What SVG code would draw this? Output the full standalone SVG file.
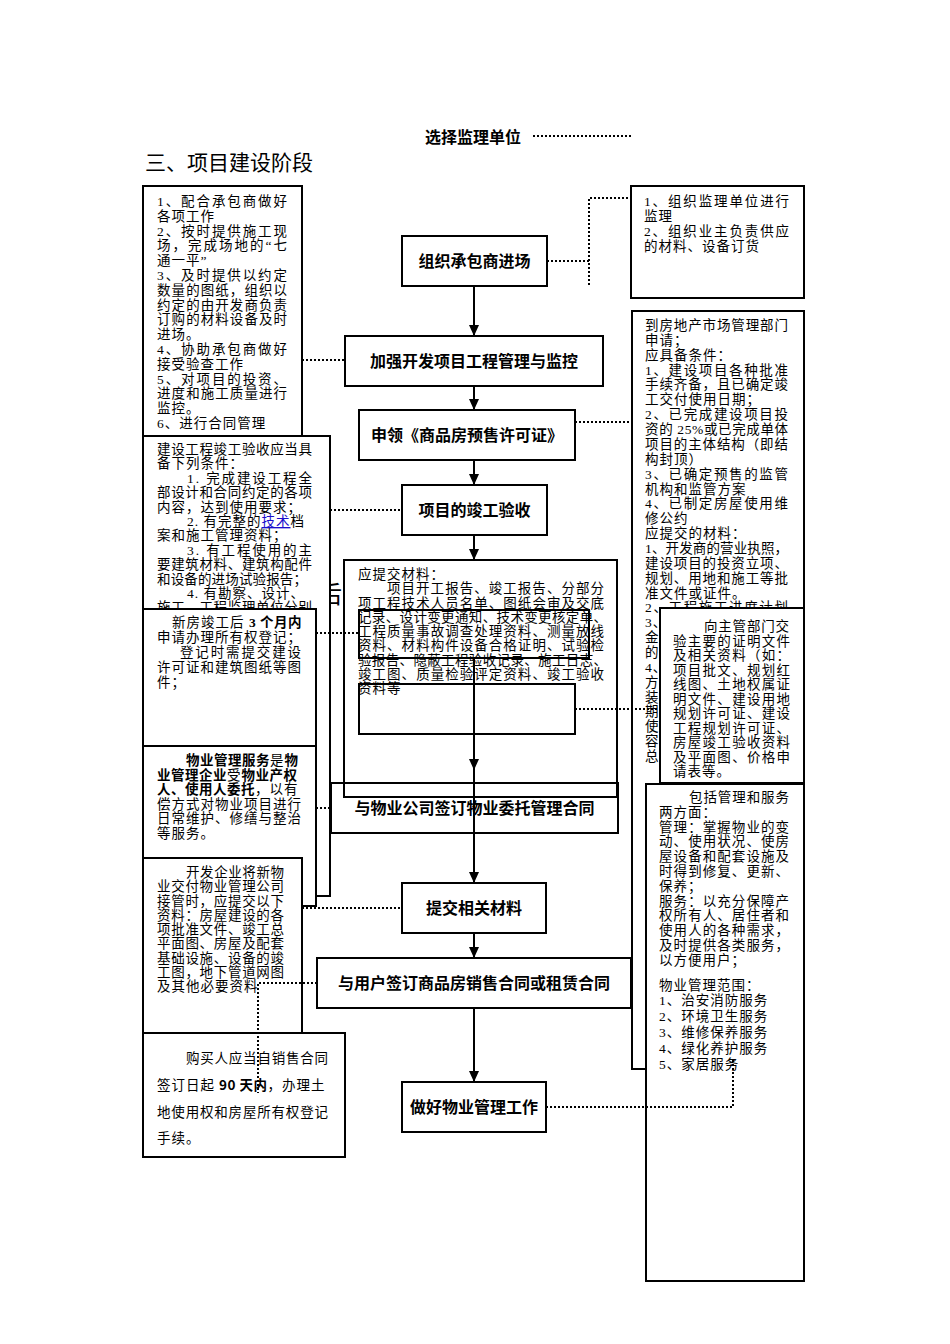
<svg xmlns="http://www.w3.org/2000/svg" width="950" height="1344" viewBox="0 0 950 1344">
<style>
.bg{fill:#fff}
.box{fill:#fff;stroke:#000;stroke-width:2}
.hol{fill:none;stroke:#000;stroke-width:2}
.dot{fill:none;stroke:#000;stroke-width:2;stroke-dasharray:2 2}
.ln{fill:none;stroke:#000;stroke-width:2}
.t{font-family:"Liberation Serif","Noto Sans CJK SC",serif;font-size:13.5px;letter-spacing:1px;fill:#000}
.s{font-family:"Noto Sans CJK SC",sans-serif;font-size:13.5px;letter-spacing:1px;fill:#000}
.b{font-weight:bold;letter-spacing:0.5px}
.n{font-family:"Noto Sans CJK SC",sans-serif;font-size:16px;font-weight:bold;text-anchor:middle;fill:#000}
.lk{fill:#1a0dcc;text-decoration:underline}
</style>
<defs>
<marker id="arr" markerUnits="userSpaceOnUse" markerWidth="12" markerHeight="10" refX="11" refY="5" orient="auto" viewBox="0 0 12 10">
<path d="M0,0 L11,5 L0,10 Z" fill="#000"/>
</marker>
</defs>
<rect class="bg" x="0" y="0" width="950" height="1344"/>

<g id="title">
<text x="425" y="143" class="n" style="text-anchor:start">选择监理单位</text>
<text x="145" y="170" style="font-family:'Noto Sans CJK SC',sans-serif;font-size:21px">三、项目建设阶段</text>
</g>

<g id="hidden-glyph">
<text x="318" y="603" style="font-family:'Noto Sans CJK SC',sans-serif;font-size:24px">后</text>
</g>

<g id="boxA">
<rect class="box" x="143" y="186" width="159" height="260"/>
<text class="t" x="157" y="206" textLength="131" lengthAdjust="spacing">1、配合承包商做好</text>
<text class="t" x="157" y="220.8">各项工作</text>
<text class="t" x="157" y="235.6" textLength="131" lengthAdjust="spacing">2、按时提供施工现</text>
<text class="t" x="157" y="250.4" textLength="131" lengthAdjust="spacing">场，完成场地的“七</text>
<text class="t" x="157" y="265.2">通一平”</text>
<text class="t" x="157" y="280" textLength="131" lengthAdjust="spacing">3、及时提供以约定</text>
<text class="t" x="157" y="294.8" textLength="131" lengthAdjust="spacing">数量的图纸，组织以</text>
<text class="t" x="157" y="309.6" textLength="131" lengthAdjust="spacing">约定的由开发商负责</text>
<text class="t" x="157" y="324.4" textLength="131" lengthAdjust="spacing">订购的材料设备及时</text>
<text class="t" x="157" y="339.2">进场。</text>
<text class="t" x="157" y="354" textLength="131" lengthAdjust="spacing">4、协助承包商做好</text>
<text class="t" x="157" y="368.8">接受验查工作</text>
<text class="t" x="157" y="383.6" textLength="131" lengthAdjust="spacing">5、对项目的投资、</text>
<text class="t" x="157" y="398.4" textLength="131" lengthAdjust="spacing">进度和施工质量进行</text>
<text class="t" x="157" y="413.2">监控。</text>
<text class="t" x="157" y="428">6、进行合同管理</text>
</g>

<g id="boxB">
<rect class="box" x="143" y="436" width="187" height="460"/>
<text class="t" x="157" y="454" textLength="156" lengthAdjust="spacing">建设工程竣工验收应当具</text>
<text class="t" x="157" y="468.4">备下列条件：</text>
<text class="t" x="187" y="482.8" textLength="126" lengthAdjust="spacing">1. 完成建设工程全</text>
<text class="t" x="157" y="497.2" textLength="156" lengthAdjust="spacing">部设计和合同约定的各项</text>
<text class="t" x="157" y="511.6">内容，达到使用要求；</text>
<text class="t" x="187" y="526">2. 有完整的<tspan class="lk">技术</tspan>档</text>
<text class="t" x="157" y="540.4">案和施工管理资料；</text>
<text class="t" x="187" y="554.8" textLength="126" lengthAdjust="spacing">3. 有工程使用的主</text>
<text class="t" x="157" y="569.2" textLength="156" lengthAdjust="spacing">要建筑材料、建筑构配件</text>
<text class="t" x="157" y="583.6" textLength="151" lengthAdjust="spacing">和设备的进场试验报告；</text>
<text class="t" x="187" y="598">4. 有勘察、设计、</text>
<text class="t" x="157" y="612.4" textLength="156" lengthAdjust="spacing">施工、工程监理单位分别</text>
</g>

<g id="boxC">
<rect class="box" x="143" y="609" width="173" height="137"/>
<text class="t" x="172" y="627">新房竣工后 <tspan class="b">3 个月内</tspan></text>
<text class="t" x="157" y="642" textLength="145" lengthAdjust="spacing">申请办理所有权登记；</text>
<text class="t" x="180" y="657" textLength="122" lengthAdjust="spacing">登记时需提交建设</text>
<text class="t" x="157" y="672" textLength="145" lengthAdjust="spacing">许可证和建筑图纸等图</text>
<text class="t" x="157" y="687">件；</text>
</g>

<g id="boxD">
<rect class="box" x="143" y="746" width="173" height="160"/>
<text class="t" x="186" y="765"><tspan class="b">物业管理服务</tspan>是<tspan class="b">物</tspan></text>
<text class="t" x="157" y="779.6"><tspan class="b">业管理企业</tspan>受<tspan class="b">物业产权</tspan></text>
<text class="t" x="157" y="794.2"><tspan class="b">人、使用人委托</tspan>，以有</text>
<text class="t" x="157" y="808.8" textLength="145" lengthAdjust="spacing">偿方式对物业项目进行</text>
<text class="t" x="157" y="823.4" textLength="145" lengthAdjust="spacing">日常维护、修缮与整治</text>
<text class="t" x="157" y="838">等服务。</text>
</g>

<g id="boxE">
<rect class="box" x="143" y="858" width="159" height="175"/>
<text class="t" x="186" y="877" textLength="99" lengthAdjust="spacing">开发企业将新物</text>
<text class="t" x="157" y="891.3" textLength="128" lengthAdjust="spacing">业交付物业管理公司</text>
<text class="t" x="157" y="905.5" textLength="128" lengthAdjust="spacing">接管时，应提交以下</text>
<text class="t" x="157" y="919.8" textLength="128" lengthAdjust="spacing">资料：房屋建设的各</text>
<text class="t" x="157" y="934" textLength="128" lengthAdjust="spacing">项批准文件、竣工总</text>
<text class="t" x="157" y="948.3" textLength="128" lengthAdjust="spacing">平面图、房屋及配套</text>
<text class="t" x="157" y="962.5" textLength="128" lengthAdjust="spacing">基础设施、设备的竣</text>
<text class="t" x="157" y="976.8" textLength="128" lengthAdjust="spacing">工图，地下管道网图</text>
<text class="t" x="157" y="991">及其他必要资料</text>
</g>

<g id="boxF">
<rect class="box" x="143" y="1033" width="202" height="124"/>
<text class="s" x="186" y="1063" textLength="143" lengthAdjust="spacing">购买人应当自销售合同</text>
<text class="s" x="157" y="1090">签订日起 <tspan class="b">90 天内</tspan>，办理土</text>
<text class="s" x="157" y="1117" textLength="172" lengthAdjust="spacing">地使用权和房屋所有权登记</text>
<text class="s" x="157" y="1143">手续。</text>
</g>

<g id="boxG">
<rect class="box" x="631" y="186" width="173" height="112"/>
<text class="t" x="644" y="206" textLength="146" lengthAdjust="spacing">1、组织监理单位进行</text>
<text class="t" x="644" y="221">监理</text>
<text class="t" x="644" y="236" textLength="146" lengthAdjust="spacing">2、组织业主负责供应</text>
<text class="t" x="644" y="251">的材料、设备订货</text>
</g>

<g id="boxH">
<rect class="box" x="632" y="311" width="172" height="758"/>
<text class="t" x="645" y="330" textLength="144" lengthAdjust="spacing">到房地产市场管理部门</text>
<text class="t" x="645" y="344.9">申请；</text>
<text class="t" x="645" y="359.7">应具备条件：</text>
<text class="t" x="645" y="374.6" textLength="144" lengthAdjust="spacing">1、建设项目各种批准</text>
<text class="t" x="645" y="389.4" textLength="144" lengthAdjust="spacing">手续齐备，且已确定竣</text>
<text class="t" x="645" y="404.3">工交付使用日期；</text>
<text class="t" x="645" y="419.2" textLength="144" lengthAdjust="spacing">2、已完成建设项目投</text>
<text class="t" x="645" y="434" textLength="144" lengthAdjust="spacing">资的 25%或已完成单体</text>
<text class="t" x="645" y="448.9" textLength="144" lengthAdjust="spacing">项目的主体结构（即结</text>
<text class="t" x="645" y="463.7">构封顶）</text>
<text class="t" x="645" y="478.6" textLength="144" lengthAdjust="spacing">3、已确定预售的监管</text>
<text class="t" x="645" y="493.5">机构和监管方案</text>
<text class="t" x="645" y="508.3" textLength="144" lengthAdjust="spacing">4、已制定房屋使用维</text>
<text class="t" x="645" y="523.2">修公约</text>
<text class="t" x="645" y="538">应提交的材料：</text>
<text class="t" x="645" y="552.9" textLength="144" lengthAdjust="spacing">1、开发商的营业执照，</text>
<text class="t" x="645" y="567.8" textLength="144" lengthAdjust="spacing">建设项目的投资立项、</text>
<text class="t" x="645" y="582.6" textLength="144" lengthAdjust="spacing">规划、用地和施工等批</text>
<text class="t" x="645" y="597.5">准文件或证件。</text>
<text class="t" x="645" y="612.3" textLength="144" lengthAdjust="spacing">2、工程施工进度计划</text>
<text class="t" x="645" y="627.2">3、</text>
<text class="t" x="645" y="642">金</text>
<text class="t" x="645" y="656.9">的</text>
<text class="t" x="645" y="671.8">4、</text>
<text class="t" x="645" y="686.6">方</text>
<text class="t" x="645" y="701.5">装</text>
<text class="t" x="645" y="716.3">期</text>
<text class="t" x="645" y="731.2">使</text>
<text class="t" x="645" y="746">容</text>
<text class="t" x="645" y="761">总</text>
</g>

<g id="boxI">
<rect class="box" x="660" y="608" width="144" height="175"/>
<text class="t" x="704" y="631" textLength="86" lengthAdjust="spacing">向主管部门交</text>
<text class="t" x="673" y="645.5" textLength="118" lengthAdjust="spacing">验主要的证明文件</text>
<text class="t" x="673" y="660" textLength="118" lengthAdjust="spacing">及相关资料（如：</text>
<text class="t" x="673" y="674.5" textLength="118" lengthAdjust="spacing">项目批文、规划红</text>
<text class="t" x="673" y="689" textLength="118" lengthAdjust="spacing">线图、土地权属证</text>
<text class="t" x="673" y="703.5" textLength="118" lengthAdjust="spacing">明文件、建设用地</text>
<text class="t" x="673" y="718" textLength="118" lengthAdjust="spacing">规划许可证、建设</text>
<text class="t" x="673" y="732.5" textLength="118" lengthAdjust="spacing">工程规划许可证、</text>
<text class="t" x="673" y="747" textLength="118" lengthAdjust="spacing">房屋竣工验收资料</text>
<text class="t" x="673" y="761.5" textLength="118" lengthAdjust="spacing">及平面图、价格申</text>
<text class="t" x="673" y="776">请表等。</text>
</g>

<g id="boxJ">
<rect class="box" x="646" y="784" width="158" height="497"/>
<text class="t" x="689" y="802" textLength="101" lengthAdjust="spacing">包括管理和服务</text>
<text class="t" x="659" y="816.8">两方面：</text>
<text class="t" x="659" y="831.6" textLength="131" lengthAdjust="spacing">管理：掌握物业的变</text>
<text class="t" x="659" y="846.4" textLength="131" lengthAdjust="spacing">动、使用状况、使房</text>
<text class="t" x="659" y="861.2" textLength="131" lengthAdjust="spacing">屋设备和配套设施及</text>
<text class="t" x="659" y="876" textLength="131" lengthAdjust="spacing">时得到修复、更新、</text>
<text class="t" x="659" y="890.8">保养；</text>
<text class="t" x="659" y="905.6" textLength="131" lengthAdjust="spacing">服务：以充分保障产</text>
<text class="t" x="659" y="920.4" textLength="131" lengthAdjust="spacing">权所有人、居住者和</text>
<text class="t" x="659" y="935.2" textLength="131" lengthAdjust="spacing">使用人的各种需求，</text>
<text class="t" x="659" y="950" textLength="131" lengthAdjust="spacing">及时提供各类服务，</text>
<text class="t" x="659" y="964.8">以方便用户；</text>
<text class="t" x="659" y="990">物业管理范围：</text>
<text class="t" x="659" y="1005">1、治安消防服务</text>
<text class="t" x="659" y="1021">2、环境卫生服务</text>
<text class="t" x="659" y="1037">3、维修保养服务</text>
<text class="t" x="659" y="1053">4、绿化养护服务</text>
<text class="t" x="659" y="1069">5、家居服务</text>
</g>

<g id="box5">
<rect class="box" x="344" y="560" width="273" height="237"/>
<rect class="hol" x="359" y="610" width="230" height="48"/>
<rect class="hol" x="359" y="684" width="216" height="50"/>
<text class="t" x="358" y="579">应提交材料：</text>
<text class="t" x="387" y="593.3" textLength="218" lengthAdjust="spacing">项目开工报告、竣工报告、分部分</text>
<text class="t" x="358" y="607.5" textLength="247" lengthAdjust="spacing">项工程技术人员名单、图纸会审及交底</text>
<text class="t" x="358" y="621.8" textLength="250" lengthAdjust="spacing">记录、设计变更通知、技术变更核定单、</text>
<text class="t" x="358" y="636" textLength="247" lengthAdjust="spacing">工程质量事故调查处理资料、测量放线</text>
<text class="t" x="358" y="650.3" textLength="247" lengthAdjust="spacing">资料、材料构件设备合格证明、试验检</text>
<text class="t" x="358" y="664.5" textLength="250" lengthAdjust="spacing">验报告、隐蔽工程验收记录、施工日志、</text>
<text class="t" x="358" y="678.8" textLength="247" lengthAdjust="spacing">竣工图、质量检验评定资料、竣工验收</text>
<text class="t" x="358" y="693">资料等</text>
</g>

<g id="connectors">
<line class="ln" x1="474" y1="286" x2="474" y2="336" marker-end="url(#arr)"/>
<line class="ln" x1="474" y1="386" x2="474" y2="410" marker-end="url(#arr)"/>
<line class="ln" x1="474" y1="460" x2="474" y2="485" marker-end="url(#arr)"/>
<line class="ln" x1="474" y1="535" x2="474" y2="560" marker-end="url(#arr)"/>
<line class="ln" x1="474" y1="658" x2="474" y2="770" marker-end="url(#arr)"/>
<line class="ln" x1="474" y1="770" x2="474" y2="883" marker-end="url(#arr)"/>
<line class="ln" x1="474" y1="933" x2="474" y2="958" marker-end="url(#arr)"/>
<line class="ln" x1="474" y1="1008" x2="474" y2="1082" marker-end="url(#arr)"/>
<path class="dot" d="M533,136 H632"/>
<path class="dot" d="M547,261 H589 M589,285 V198 H631"/>
<path class="dot" d="M302,360 H345"/>
<path class="dot" d="M575,422 H632"/>
<path class="dot" d="M330,510 H402"/>
<path class="dot" d="M316,633 H359"/>
<path class="dot" d="M575,709 H660"/>
<path class="dot" d="M316,808 H331"/>
<path class="dot" d="M302,908 H402"/>
<path class="dot" d="M317,983 H258 V1093"/>
<path class="dot" d="M546,1107 H733 V1058"/>
</g>

<g id="n1"><rect class="box" x="402" y="236" width="145" height="50"/><text class="n" x="474.5" y="267">组织承包商进场</text></g>
<g id="n2"><rect class="box" x="345" y="336" width="258" height="50"/><text class="n" x="474" y="367">加强开发项目工程管理与监控</text></g>
<g id="n3"><rect class="box" x="359" y="410" width="216" height="50"/><text class="n" x="467" y="441">申领《商品房预售许可证》</text></g>
<g id="n4"><rect class="box" x="402" y="485" width="145" height="50"/><text class="n" x="474.5" y="516">项目的竣工验收</text></g>
<g id="n6"><rect class="hol" x="331" y="783" width="287" height="50"/><text class="n" x="474.5" y="814">与物业公司签订物业委托管理合同</text></g>
<g id="n7"><rect class="hol" x="402" y="883" width="144" height="50"/><text class="n" x="474" y="914">提交相关材料</text></g>
<g id="n8"><rect class="hol" x="317" y="958" width="314" height="50"/><text class="n" x="474" y="989">与用户签订商品房销售合同或租赁合同</text></g>
<g id="n9"><rect class="box" x="402" y="1082" width="144" height="50"/><text class="n" x="474" y="1113">做好物业管理工作</text></g>
</svg>
